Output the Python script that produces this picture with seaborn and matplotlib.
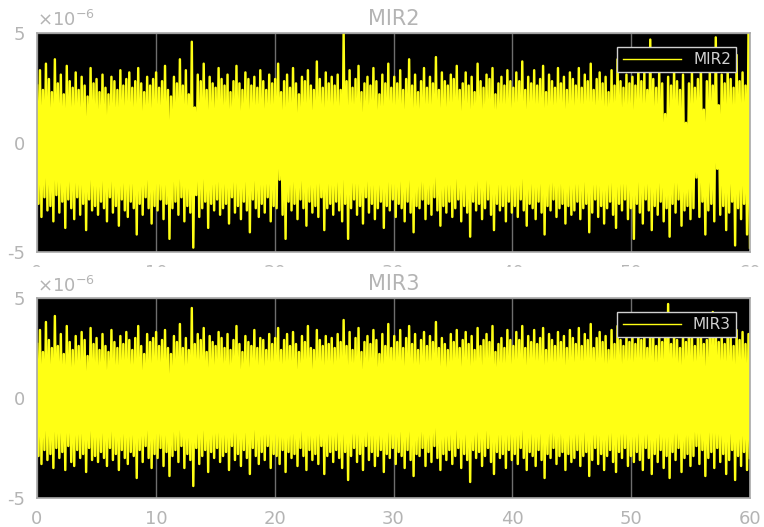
import numpy as np
import matplotlib
matplotlib.use("Agg")
import matplotlib.pyplot as plt
import matplotlib.patches as mpatches
from matplotlib.ticker import FuncFormatter
import seaborn as sns

# signal peaks, in units of 1e-6
# (upper and lower swings of the trace, alternating sample by sample)
mir2_hi = [
    2.6, 3.3, 2.4, 3.6, 2.9, 2.3, 3.8, 2.7, 3.1, 2.2, 3.5, 2.8, 2.5, 3.2, 2.4, 3.0, 2.6, 2.1, 3.4, 2.7,
    2.9, 2.3, 3.1, 2.5, 2.2, 3.0, 2.8, 2.4, 3.3, 2.6, 2.9, 3.2, 2.5, 2.8, 3.4, 2.7, 2.3, 3.0, 2.6, 2.9,
    3.2, 2.5, 2.8, 3.5, 2.4, 2.1, 3.0, 2.7, 3.8, 2.6, 3.3, 2.2, 4.6, 1.6, 3.1, 2.8, 3.6, 2.4, 3.0, 2.7,
    2.5, 3.4, 2.9, 2.6, 3.1, 2.3, 2.8, 3.5, 2.7, 2.4, 3.2, 2.9, 2.6, 3.0, 2.5, 3.3, 2.8, 2.4, 3.1, 2.7,
    2.9, 3.6, 2.3, 2.8, 3.1, 2.5, 3.4, 2.7, 2.2, 3.0, 2.8, 3.3, 2.6, 2.4, 3.7, 2.9, 2.5, 3.2, 2.7, 3.0,
    2.6, 3.1, 2.4, 5.0, 2.8, 3.3, 2.5, 2.9, 3.5, 2.3, 2.7, 3.0, 2.6, 3.4, 2.8, 2.2, 3.1, 2.7, 3.6, 2.5,
    3.0, 2.7, 3.3, 2.4, 2.9, 3.8, 2.6, 3.1, 2.3, 2.8, 3.4, 2.5, 3.0, 2.7, 3.9, 2.4, 3.2, 2.8, 2.6, 3.1,
    2.9, 3.5, 2.4, 2.7, 3.2, 2.6, 3.0, 2.3, 3.6, 2.8, 2.5, 3.1, 2.9, 3.4, 2.2, 2.7, 3.0, 2.6, 3.3, 2.8,
    2.5, 3.2, 2.8, 3.7, 2.4, 3.0, 2.7, 3.3, 2.6, 2.9, 3.5, 2.3, 3.1, 2.8, 2.5, 3.4, 2.7, 3.0, 2.4, 3.2,
    2.9, 2.6, 3.4, 2.5, 3.1, 2.8, 3.6, 2.4, 2.9, 3.2, 2.7, 3.0, 2.3, 3.3, 2.6, 3.8, 2.8, 2.5, 3.1, 2.7,
    3.0, 2.6, 3.5, 2.8, 3.2, 2.4, 4.7, 2.9, 2.5, 3.3, 2.7, 1.3, 3.0, 2.6, 3.4, 2.8, 2.4, 3.1, 0.9, 2.7,
    3.2, 2.5, 2.9, 3.6, 1.5, 2.8, 3.3, 2.6, 4.8, 1.7, 3.1, 2.7, 3.4, 2.9, 2.5, 4.0, 2.8, 3.2, 2.6, 5.0,
]
mir2_lo = [
    -2.8, -3.4, -2.5, -3.1, -2.9, -3.6, -2.4, -3.2, -2.7, -3.9, -2.6, -3.0, -3.5, -2.5, -3.3, -2.8, -4.0, -2.6, -3.1, -2.9,
    -3.3, -2.7, -3.0, -3.6, -2.5, -3.2, -2.9, -3.8, -2.6, -3.1, -3.4, -2.7, -3.0, -4.2, -2.8, -3.3, -2.5, -3.0, -3.7, -2.9,
    -3.1, -2.6, -3.5, -2.8, -4.4, -3.0, -2.7, -3.3, -2.5, -3.6, -2.9, -3.2, -4.8, -2.4, -3.4, -3.0, -2.7, -3.9, -2.8, -3.1,
    -2.6, -3.3, -3.0, -2.8, -3.7, -2.5, -3.2, -2.9, -3.5, -2.7, -3.1, -4.1, -2.6, -3.0, -3.4, -2.8, -3.2, -2.5, -3.6, -2.9,
    -3.0, -1.7, -3.3, -4.4, -2.7, -3.1, -2.8, -3.5, -2.6, -3.0, -3.8, -2.7, -3.2, -2.9, -3.4, -2.5, -4.0, -3.0, -2.8, -3.3,
    -2.7, -3.1, -3.6, -2.8, -4.4, -3.0, -2.6, -3.3, -2.9, -3.7, -2.5, -3.2, -2.8, -3.5, -3.0, -2.7, -3.9, -2.9, -3.1, -2.6,
    -3.4, -2.8, -3.0, -3.6, -2.7, -3.2, -4.1, -2.9, -3.0, -2.6, -3.5, -2.8, -3.3, -2.5, -3.1, -3.8, -2.9, -3.2, -2.7, -3.4,
    -3.0, -2.6, -3.6, -2.9, -3.2, -4.3, -2.7, -3.1, -2.8, -3.5, -3.0, -2.6, -3.3, -4.0, -2.8, -3.1, -2.9, -3.6, -2.7, -3.2,
    -2.9, -3.4, -2.6, -3.1, -3.8, -2.8, -3.0, -3.5, -2.7, -3.2, -4.2, -2.9, -3.1, -2.6, -3.4, -3.0, -2.8, -3.7, -2.9, -3.3,
    -3.1, -2.7, -3.5, -3.0, -2.8, -4.1, -3.2, -2.6, -3.4, -2.9, -3.7, -3.0, -2.7, -3.3, -3.9, -2.8, -3.1, -2.6, -3.5, -3.0,
    -4.4, -2.8, -3.2, -3.7, -2.6, -3.1, -4.0, -2.9, -3.3, -2.7, -3.6, -3.0, -4.3, -2.8, -3.2, -2.6, -3.8, -3.1, -2.9, -3.5,
    -3.0, -1.6, -3.4, -2.7, -4.2, -3.1, -2.8, -3.6, -1.2, -3.3, -2.9, -4.0, -3.2, -2.7, -4.7, -3.0, -3.5, -2.8, -4.2, -4.8,
]
mir3_hi = [
    2.7, 3.4, 2.3, 3.8, 2.9, 2.5, 4.1, 2.6, 3.2, 2.2, 3.6, 2.8, 2.4, 3.1, 2.6, 3.3, 2.9, 2.1, 3.5, 2.7,
    3.0, 2.4, 3.2, 2.6, 2.3, 3.4, 2.8, 2.5, 3.1, 2.7, 3.3, 2.9, 2.4, 3.0, 3.6, 2.6, 2.2, 3.2, 2.8, 3.0,
    3.3, 2.6, 2.9, 3.4, 2.5, 2.2, 3.1, 2.8, 3.7, 2.5, 3.0, 2.4, 4.5, 2.7, 3.2, 2.9, 3.5, 2.3, 3.1, 2.8,
    2.6, 3.3, 3.0, 2.5, 3.2, 2.4, 2.9, 3.6, 2.7, 2.3, 3.1, 2.8, 2.6, 3.4, 2.5, 3.0, 2.9, 2.4, 3.2, 2.7,
    3.0, 3.5, 2.4, 2.9, 3.2, 2.6, 3.3, 2.7, 2.3, 3.1, 2.8, 3.6, 2.5, 2.4, 3.4, 2.9, 2.6, 3.1, 2.7, 3.0,
    2.5, 3.2, 2.8, 3.9, 2.6, 3.3, 2.4, 3.0, 3.5, 2.3, 2.8, 3.1, 2.7, 3.4, 2.9, 2.2, 3.2, 2.6, 3.7, 2.5,
    3.1, 2.8, 3.4, 2.5, 3.0, 3.6, 2.7, 3.2, 2.4, 2.9, 3.3, 2.6, 3.1, 2.8, 3.8, 2.5, 3.0, 2.7, 2.4, 3.2,
    2.8, 3.4, 2.5, 2.9, 3.3, 2.7, 3.1, 2.4, 3.5, 2.6, 2.9, 3.2, 2.8, 3.6, 2.3, 2.7, 3.0, 2.5, 3.4, 2.9,
    2.6, 3.3, 2.9, 3.6, 2.5, 3.1, 2.8, 3.4, 2.7, 3.0, 3.5, 2.4, 3.2, 2.9, 2.6, 3.3, 2.8, 3.1, 2.5, 3.4,
    3.0, 2.7, 3.5, 2.6, 3.2, 2.9, 3.7, 2.5, 3.0, 3.3, 2.8, 3.1, 2.4, 3.4, 2.7, 3.6, 2.9, 2.6, 3.2, 2.8,
    3.1, 2.7, 3.4, 2.9, 3.3, 2.5, 3.8, 3.0, 2.6, 3.2, 2.8, 3.5, 4.7, 2.7, 3.3, 2.9, 2.5, 3.2, 2.8, 3.6,
    3.1, 2.6, 3.0, 3.5, 2.7, 2.9, 3.4, 4.3, 3.6, 2.8, 3.2, 2.7, 3.5, 3.0, 2.6, 3.4, 2.9, 3.3, 2.7, 3.2,
]
mir3_lo = [
    -2.9, -3.3, -2.6, -3.1, -2.8, -3.5, -2.5, -3.0, -2.7, -3.6, -2.4, -3.2, -3.4, -2.6, -3.0, -2.8, -3.7, -2.5, -3.1, -2.9,
    -3.2, -2.7, -3.0, -3.4, -2.5, -3.1, -2.8, -3.6, -2.6, -3.0, -3.3, -2.7, -2.9, -4.0, -2.6, -3.2, -2.4, -3.0, -3.5, -2.8,
    -3.0, -2.5, -3.4, -2.7, -3.9, -2.9, -2.6, -3.2, -2.4, -3.5, -2.8, -3.1, -4.4, -2.5, -3.3, -2.9, -2.6, -3.7, -2.7, -3.0,
    -2.5, -3.2, -2.9, -2.7, -3.6, -2.4, -3.1, -2.8, -3.4, -2.6, -3.0, -3.8, -2.5, -2.9, -3.3, -2.7, -3.1, -2.4, -3.5, -2.8,
    -2.9, -3.3, -2.6, -3.7, -2.7, -3.0, -2.8, -3.4, -2.5, -2.9, -3.6, -2.6, -3.1, -2.8, -3.3, -2.4, -3.8, -2.9, -2.7, -3.2,
    -2.6, -3.0, -3.5, -2.7, -4.1, -2.9, -2.5, -3.2, -2.8, -3.6, -2.4, -3.1, -2.7, -3.4, -2.9, -2.6, -3.7, -2.8, -3.0, -2.5,
    -3.3, -2.7, -2.9, -3.5, -2.6, -3.1, -3.9, -2.8, -2.9, -2.5, -3.4, -2.7, -3.2, -2.4, -3.0, -3.6, -2.8, -3.1, -2.6, -3.3,
    -2.9, -2.5, -3.5, -2.8, -3.1, -4.2, -2.6, -3.0, -2.7, -3.4, -2.9, -2.5, -3.2, -3.8, -2.7, -3.0, -2.8, -3.5, -2.6, -3.1,
    -2.8, -3.3, -2.5, -3.0, -3.6, -2.7, -2.9, -3.4, -2.6, -3.1, -4.0, -2.8, -3.0, -2.5, -3.3, -2.9, -2.7, -3.6, -2.8, -3.2,
    -3.0, -2.6, -3.4, -2.9, -2.7, -3.9, -3.1, -2.5, -3.3, -2.8, -3.6, -2.9, -2.6, -3.2, -3.7, -2.7, -3.0, -2.5, -3.4, -2.9,
    -3.2, -2.7, -3.1, -3.6, -2.5, -3.0, -3.8, -2.8, -3.2, -2.6, -3.5, -2.9, -4.0, -2.7, -3.1, -2.5, -3.7, -3.0, -2.8, -3.4,
    -2.9, -2.4, -3.3, -2.6, -3.9, -3.0, -2.7, -3.5, -2.5, -3.2, -2.8, -3.8, -3.1, -2.6, -4.1, -2.9, -3.4, -2.7, -3.6, -3.0,
]
channels = ["MIR2", "MIR3"]
x_ticks = [0, 10, 20, 30, 40, 50, 60]
y_ticks = [-5e-6, 0, 5e-6]

grey = "#b4b4b4"
plt.rcParams["axes.unicode_minus"] = False
plt.rcParams["font.family"] = ["DejaVu Sans"]


def trace(hi, lo):
    y = np.empty(2 * len(hi))
    y[0::2] = hi
    y[1::2] = lo
    return y * 1e-6


fig = plt.figure(figsize=(7.64, 5.27), dpi=100)
ax1 = fig.add_axes([37 / 764, 1 - 252 / 527, 713 / 764, 219 / 527])
ax2 = fig.add_axes([37 / 764, 1 - 498 / 527, 713 / 764, 200 / 527])

for ax, name, hi, lo in [(ax1, channels[0], mir2_hi, mir2_lo),
                         (ax2, channels[1], mir3_hi, mir3_lo)]:
    y = trace(hi, lo)
    t = np.linspace(0, 60, len(y))
    sns.lineplot(x=t, y=y, ax=ax, color="#ffff14", lw=1.75,
                 estimator=None, sort=False, label=name,
                 solid_joinstyle="round")
    ax.set_facecolor("black")
    ax.set_xlim(0, 60)
    ax.set_ylim(-5e-6, 5e-6)
    ax.set_xticks(x_ticks)
    ax.set_yticks(y_ticks)
    ax.yaxis.set_major_formatter(FuncFormatter(lambda v, p: "%g" % round(v * 1e6, 3)))
    ax.text(0, 1.012, r"$\times10^{-6}$", transform=ax.transAxes,
            ha="left", va="bottom", color=grey, fontsize=13)
    ax.set_axisbelow(True)
    ax.grid(True, color="#6e6e6e", lw=1)
    ax.tick_params(length=0, labelsize=13, colors=grey, pad=8.5)
    for s in ax.spines.values():
        s.set_color("#a8a8a8")
        s.set_linewidth(1.2)
        s.set_zorder(4)
    ax.set_title(name, color=grey, fontsize=15, pad=6)
    ax.set_xlabel("")
    ax.set_ylabel("")
    leg = ax.legend(loc="upper right", frameon=True, fancybox=False,
                    fontsize=11, handlelength=3.8, borderaxespad=0.9,
                    borderpad=0.35)
    leg.get_frame().set_facecolor("black")
    leg.get_frame().set_edgecolor("#d0d0d0")
    leg.get_frame().set_alpha(1)
    for h in leg.get_lines():
        h.set_linewidth(1.0)
    for txt in leg.get_texts():
        txt.set_color("#d0d0d0")

# bottom panel sits over the clipped tick labels of the top one
ax2.set_zorder(2)
fig.add_artist(mpatches.Rectangle((0, 1 - 300 / 527), 1, 33 / 527,
                                  transform=fig.transFigure, color="white",
                                  zorder=1))

fig.savefig("out.png", dpi=100, facecolor="white")
